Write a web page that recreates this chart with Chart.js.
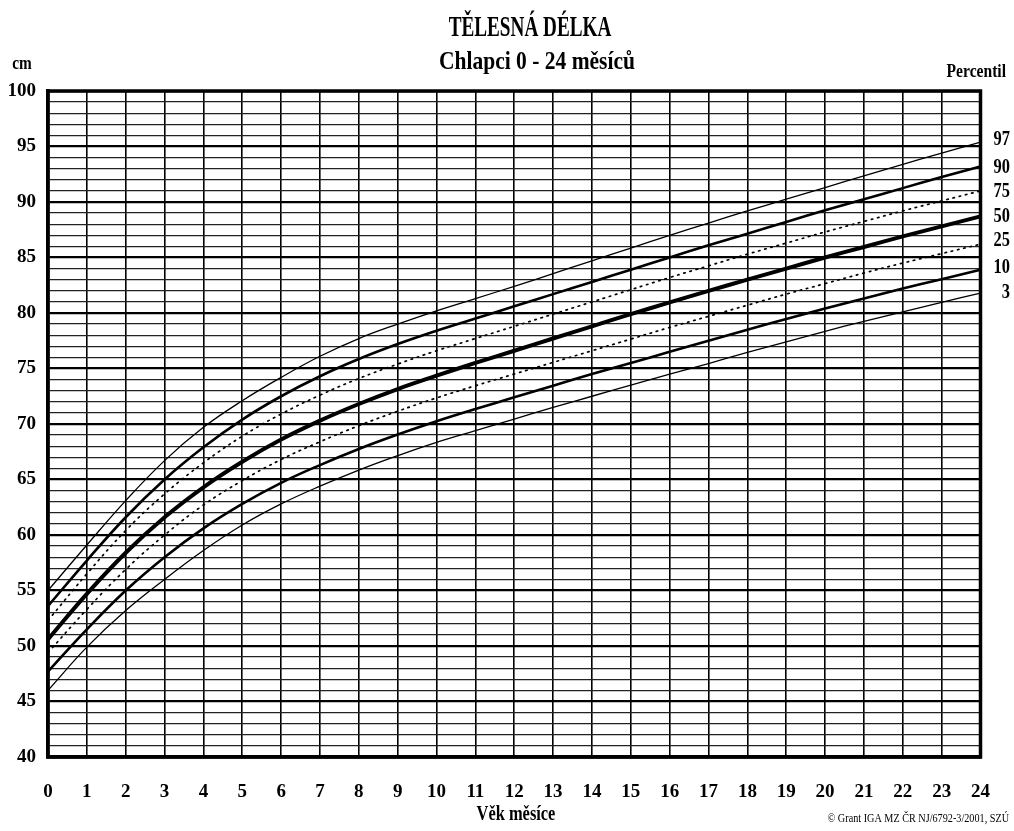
<!DOCTYPE html>
<html>
<head>
<meta charset="utf-8">
<script src="https://cdn.jsdelivr.net/npm/chart.js@4.4.1/dist/chart.umd.min.js"></script>
<style>
html,body{margin:0;padding:0;background:#fff;}
#wrap{width:1014px;height:831px;position:relative;}
</style>
</head>
<body>
<div id="wrap"><canvas id="c" width="1014" height="831"></canvas></div>
<script>
const months = [0,1,2,3,4,5,6,7,8,9,10,11,12,13,14,15,16,17,18,19,20,21,22,23,24];
const p97 = [55.0,59.1,63.1,66.7,69.7,72.1,74.2,76.1,77.7,79.0,80.2,81.3,82.4,83.55,84.7,85.85,87.0,88.1,89.2,90.25,91.3,92.35,93.4,94.4,95.4];
const p90 = [53.6,57.7,61.6,65.0,67.9,70.4,72.5,74.3,75.85,77.2,78.4,79.5,80.6,81.7,82.8,83.9,85.0,86.1,87.15,88.2,89.25,90.25,91.25,92.25,93.2];
const p75 = [52.3,56.5,60.4,63.7,66.5,68.9,70.9,72.6,74.1,75.4,76.6,77.7,78.8,79.9,81.0,82.1,83.2,84.25,85.3,86.3,87.3,88.25,89.2,90.1,91.0];
const p50 = [50.6,54.7,58.4,61.6,64.3,66.6,68.6,70.3,71.8,73.15,74.35,75.5,76.6,77.7,78.8,79.9,80.95,82.0,83.0,84.0,85.0,85.95,86.9,87.8,88.7];
const p25 = [49.4,53.3,56.9,60.0,62.7,64.9,66.8,68.4,69.85,71.15,72.35,73.45,74.5,75.55,76.6,77.65,78.7,79.7,80.7,81.7,82.65,83.6,84.5,85.35,86.2];
const p10 = [47.7,51.5,55.0,58.0,60.6,62.8,64.7,66.3,67.75,69.05,70.25,71.35,72.4,73.45,74.5,75.5,76.5,77.5,78.5,79.45,80.4,81.3,82.2,83.05,83.9];
const p3  = [46.0,49.9,53.2,56.0,58.6,60.9,62.8,64.4,65.85,67.15,68.35,69.4,70.45,71.5,72.5,73.5,74.5,75.45,76.45,77.4,78.35,79.25,80.1,80.95,81.8];
const percentileLabels = ['97','90','75','50','25','10','3'];
const titleText = 'TĚLESNÁ DÉLKA';
const subtitleText = 'Chlapci 0 - 24 měsíců';
const yUnit = 'cm';
const legendTitle = 'Percentil';
const xTitle = 'Věk měsíce';
const footnote = '© Grant IGA MZ ČR NJ/6792-3/2001, SZÚ';

const SERIF = '"Liberation Serif", "DejaVu Serif", serif';

function ds(label, data, width, dash) {
  return {
    label, data,
    borderColor: '#000',
    borderWidth: width,
    borderDash: dash || [],
    pointRadius: 0,
    fill: false,
    tension: 0.4,
    borderCapStyle: dash ? 'round' : 'butt'
  };
}

function drawScaled(ctx, text, x, y, font, align, targetScale) {
  ctx.save();
  ctx.font = font;
  ctx.textBaseline = 'middle';
  ctx.textAlign = 'left';
  const w = ctx.measureText(text).width * targetScale;
  let left = x;
  if (align === 'center') left = x - w / 2;
  else if (align === 'right') left = x - w;
  ctx.translate(left, y);
  ctx.scale(targetScale, 1);
  ctx.fillStyle = '#000';
  ctx.fillText(text, 0, 0);
  ctx.restore();
}

const textPlugin = {
  id: 'texts',
  afterDraw(chart) {
    const ctx = chart.ctx;
    const a = chart.chartArea;
    ctx.save();
    ctx.strokeStyle = '#000';
    ctx.lineWidth = 3.5;
    ctx.strokeRect(a.left, a.top, a.right - a.left, a.bottom - a.top);
    ctx.restore();
    drawScaled(ctx, titleText, 530, 28, 'bold 30px ' + SERIF, 'center', 0.64);
    drawScaled(ctx, subtitleText, 537, 63, 'bold 25px ' + SERIF, 'center', 0.86);
    drawScaled(ctx, yUnit, 22, 64, 'bold 18px ' + SERIF, 'center', 0.85);
    drawScaled(ctx, legendTitle, 1006, 72, 'bold 19px ' + SERIF, 'right', 0.82);
    drawScaled(ctx, xTitle, 516, 815, 'bold 20px ' + SERIF, 'center', 0.82);
    drawScaled(ctx, footnote, 1009, 819, '12px ' + SERIF, 'right', 0.85);
    const ys = chart.scales.y;
    const sets = [p97, p90, p75, p50, p25, p10, p3];
    const off = [-2, 1, 1, 0, -3, -2, 0];
    sets.forEach((s, i) => {
      const py = ys.getPixelForValue(s[s.length - 1]) + off[i];
      drawScaled(ctx, percentileLabels[i], 1010, py, 'bold 20px ' + SERIF, 'right', 0.82);
    });
  }
};

new Chart(document.getElementById('c'), {
  type: 'line',
  data: {
    labels: months,
    datasets: [
      ds('97', p97, 1.3),
      ds('90', p90, 2.6),
      ds('75', p75, 1.7, [1.5, 5]),
      ds('50', p50, 4),
      ds('25', p25, 1.7, [1.5, 5]),
      ds('10', p10, 2.6),
      ds('3', p3, 1.3)
    ]
  },
  options: {
    responsive: false,
    animation: false,
    devicePixelRatio: 1,
    layout: { padding: { left: 0, right: 32, top: 91, bottom: 0 } },
    plugins: { legend: { display: false }, tooltip: { enabled: false }, title: { display: false } },
    scales: {
      x: {
        type: 'category',
        offset: false,
        afterFit(scale) { scale.height = 74; },
        grid: { color: '#000', lineWidth: 1.6, drawTicks: false, offset: false },
        border: { display: true, color: '#000', width: 3.5 },
        ticks: {
          color: '#000', padding: 24, autoSkip: false, maxRotation: 0,
          font: { family: SERIF, weight: 'bold', size: 19 }
        }
      },
      y: {
        min: 40, max: 100,
        afterFit(scale) { scale.width = 48; },
        grid: {
          color: (c) => (c.tick && c.tick.value % 5 === 0) ? '#000' : '#222',
          lineWidth: (c) => (c.tick && c.tick.value % 5 === 0) ? 2.2 : 1.3,
          drawTicks: false
        },
        border: { display: true, color: '#000', width: 3.5 },
        ticks: {
          stepSize: 1, autoSkip: false, color: '#000', padding: 12,
          font: { family: SERIF, weight: 'bold', size: 19 },
          callback: (v) => (v % 5 === 0 ? String(v) : '')
        }
      }
    }
  },
  plugins: [textPlugin]
});
</script>
</body>
</html>
